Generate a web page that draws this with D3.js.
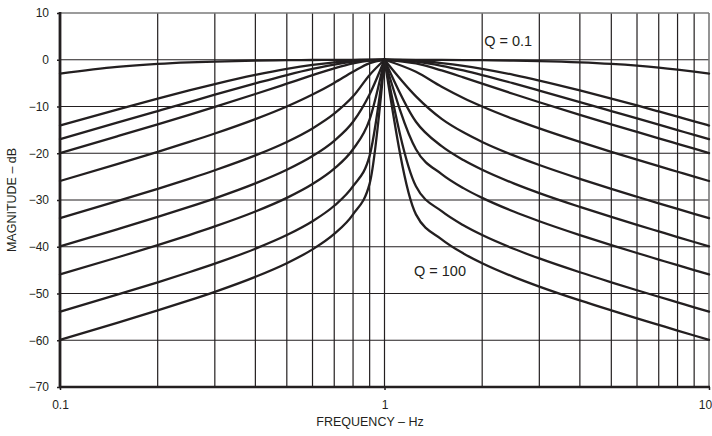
<!DOCTYPE html>
<html>
<head>
<meta charset="utf-8">
<script src="https://cdn.jsdelivr.net/npm/d3@7"></script>
<style>
  html, body { margin: 0; padding: 0; background: #ffffff; }
  svg { display: block; }
  text { font-family: "Liberation Sans", Arial, Helvetica, sans-serif; fill: #231f20; }
</style>
</head>
<body>
<svg id="chart" width="712" height="436"></svg>
<script>
// ---------- data ----------
const freqs = [0.1, 0.15, 0.2, 0.25, 0.3, 0.4, 0.5, 0.6, 0.7, 0.8, 0.9, 1,
               1.25, 1.5, 1.75, 2, 2.5, 3, 4, 5, 6, 7, 8, 9, 10];
const qValues = [0.1, 0.5, 0.707, 1, 2, 5, 10, 20, 50, 100];

const magQ0_1   = [-2.97,-1.54,-0.90,-0.57,-0.38,-0.19,-0.10,-0.05,-0.02,-0.01,0,0,-0.01,-0.03,-0.06,-0.10,-0.19,-0.30,-0.57,-0.90,-1.27,-1.67,-2.10,-2.53,-2.97];
const magQ0_5   = [-14.07,-10.65,-8.30,-6.55,-5.19,-3.23,-1.94,-1.09,-0.54,-0.21,-0.05,0,-0.21,-0.70,-1.29,-1.94,-3.23,-4.44,-6.55,-8.30,-9.78,-11.06,-12.18,-13.17,-14.07];
const magQ0_707 = [-16.99,-13.47,-10.98,-9.05,-7.48,-5.06,-3.27,-1.96,-1.02,-0.42,-0.10,0,-0.42,-1.29,-2.29,-3.27,-5.06,-6.59,-9.05,-10.98,-12.56,-13.89,-15.05,-16.08,-16.99];
const magQ1     = [-19.96,-16.38,-13.81,-11.78,-10.09,-7.33,-5.12,-3.30,-1.85,-0.80,-0.19,0,-0.80,-2.29,-3.78,-5.12,-7.33,-9.09,-11.78,-13.81,-15.44,-16.81,-17.99,-19.03,-19.96];
const magQ2     = [-25.94,-22.33,-19.69,-17.58,-15.78,-12.70,-10.00,-7.44,-4.95,-2.58,-0.71,0,-2.58,-5.77,-8.17,-10.00,-12.70,-14.69,-17.58,-19.69,-21.37,-22.77,-23.96,-25.01,-25.94];
const magQ5     = [-33.89,-30.26,-27.61,-25.47,-23.64,-20.46,-17.58,-14.69,-11.54,-7.83,-3.25,0,-7.83,-12.64,-15.53,-17.58,-20.46,-22.52,-25.47,-27.61,-29.30,-30.71,-31.91,-32.96,-33.89];
const magQ10    = [-39.91,-36.28,-33.63,-31.48,-29.64,-26.45,-23.54,-20.60,-17.33,-13.27,-7.37,0,-13.27,-18.48,-21.46,-23.54,-26.45,-28.53,-31.48,-33.63,-35.32,-36.72,-37.93,-38.98,-39.91];
const magQ20    = [-45.93,-42.30,-39.65,-37.50,-35.66,-32.47,-29.55,-26.59,-23.29,-19.14,-12.75,0,-19.14,-24.45,-27.46,-29.55,-32.47,-34.54,-37.50,-39.65,-41.34,-42.74,-43.95,-45.00,-45.93];
const magQ50    = [-53.89,-50.26,-47.60,-45.46,-43.62,-40.42,-37.50,-34.54,-31.23,-27.05,-20.51,0,-27.05,-32.40,-35.41,-37.50,-40.42,-42.50,-45.46,-47.60,-49.30,-50.70,-51.90,-52.96,-53.89];
const magQ100   = [-59.91,-56.28,-53.62,-51.48,-49.64,-46.44,-43.52,-40.56,-37.25,-33.07,-26.50,0,-33.07,-38.42,-41.43,-43.52,-46.44,-48.52,-51.48,-53.62,-55.32,-56.72,-57.93,-58.98,-59.91];
const seriesMags = [magQ0_1, magQ0_5, magQ0_707, magQ1, magQ2, magQ5, magQ10, magQ20, magQ50, magQ100];

const xDomain = [0.1, 10];
const yDomain = [-70, 10];
const xTickValues = [0.1, 1, 10];
const xTickLabels = ["0.1", "1", "10"];
const yTickValues = [10, 0, -10, -20, -30, -40, -50, -60, -70];
const xTitle = "FREQUENCY – Hz";
const yTitle = "MAGNITUDE – dB";
const labelTop = "Q = 0.1";
const labelBottom = "Q = 100";

// ---------- layout ----------
const L = 60, R = 709, T = 13, B = 387;
const svg = d3.select("#chart");
const x = d3.scaleLog().domain(xDomain).range([L, R]);
const y = d3.scaleLinear().domain(yDomain).range([B, T]);

// grid
const gridX = x.ticks().filter(v => v > xDomain[0] * 1.0001 && v < xDomain[1] * 0.9999);
svg.append("g").selectAll("line").data(gridX).join("line")
  .attr("x1", d => x(d)).attr("x2", d => x(d))
  .attr("y1", T).attr("y2", B)
  .attr("stroke", "#231f20").attr("stroke-width", 1.2);
const gridY = yTickValues.filter(v => v > yDomain[0] && v < yDomain[1]);
svg.append("g").selectAll("line").data(gridY).join("line")
  .attr("x1", L).attr("x2", R)
  .attr("y1", d => y(d)).attr("y2", d => y(d))
  .attr("stroke", "#231f20").attr("stroke-width", 1.2);

// frame top/right (gray)
svg.append("line").attr("x1", L).attr("x2", R).attr("y1", y(yDomain[1])).attr("y2", y(yDomain[1]))
  .attr("stroke", "#7a7a7a").attr("stroke-width", 1.6);
svg.append("line").attr("x1", x(xDomain[1])).attr("x2", x(xDomain[1])).attr("y1", T).attr("y2", B)
  .attr("stroke", "#7a7a7a").attr("stroke-width", 1.6);

// curves: split at the peak so it stays sharp
const line = d3.line().x(d => x(d[0])).y(d => y(d[1])).curve(d3.curveMonotoneX);
const peak = freqs.indexOf(1);
const curveG = svg.append("g").attr("fill", "none").attr("stroke", "#231f20")
  .attr("stroke-width", 2.3).attr("stroke-linejoin", "round").attr("stroke-linecap", "round");
seriesMags.forEach(mags => {
  const pts = freqs.map((f, i) => [f, mags[i]]);
  curveG.append("path").attr("d", line(pts.slice(0, peak + 1)));
  curveG.append("path").attr("d", line(pts.slice(peak)));
});

// axes
const yAxis = d3.axisLeft(y).tickValues(yTickValues).tickSize(3).tickPadding(8);
const gy = svg.append("g").attr("transform", `translate(${L},0)`).call(yAxis);
gy.select(".domain").remove();
gy.selectAll(".tick line").attr("stroke", "#231f20").attr("stroke-width", 1.5);
gy.selectAll(".tick text").attr("font-size", 12).style("fill", "#231f20");

const xAxis = d3.axisBottom(x).tickValues(xTickValues)
  .tickFormat((d, i) => xTickLabels[i]).tickSize(3).tickPadding(10);
const gx = svg.append("g").attr("transform", `translate(0,${B})`).call(xAxis);
gx.select(".domain").remove();
gx.selectAll(".tick line").attr("stroke", "#231f20").attr("stroke-width", 1.5);
gx.selectAll(".tick text").attr("font-size", 12).style("fill", "#231f20");
gx.selectAll(".tick text").filter(d => d === xDomain[1]).attr("dx", -4);

// thick left & bottom axis lines
svg.append("line").attr("x1", L).attr("x2", L).attr("y1", T - 1).attr("y2", B + 1)
  .attr("stroke", "#231f20").attr("stroke-width", 2.8);
svg.append("line").attr("x1", L - 1).attr("x2", R + 1).attr("y1", B).attr("y2", B)
  .attr("stroke", "#231f20").attr("stroke-width", 2.5);

// titles
svg.append("text").attr("x", 370).attr("y", 426).attr("text-anchor", "middle")
  .attr("font-size", 12.5).text(xTitle);
svg.append("text").attr("transform", `translate(15.5,${(T + B) / 2}) rotate(-90)`)
  .attr("text-anchor", "middle").attr("font-size", 12.5).text(yTitle);

// Q labels
svg.append("text").attr("x", x(2) + 2).attr("y", 46).attr("font-size", 14.5).text(labelTop);
svg.append("text").attr("x", 414).attr("y", 276).attr("font-size", 14.5).text(labelBottom);
</script>
</body>
</html>
